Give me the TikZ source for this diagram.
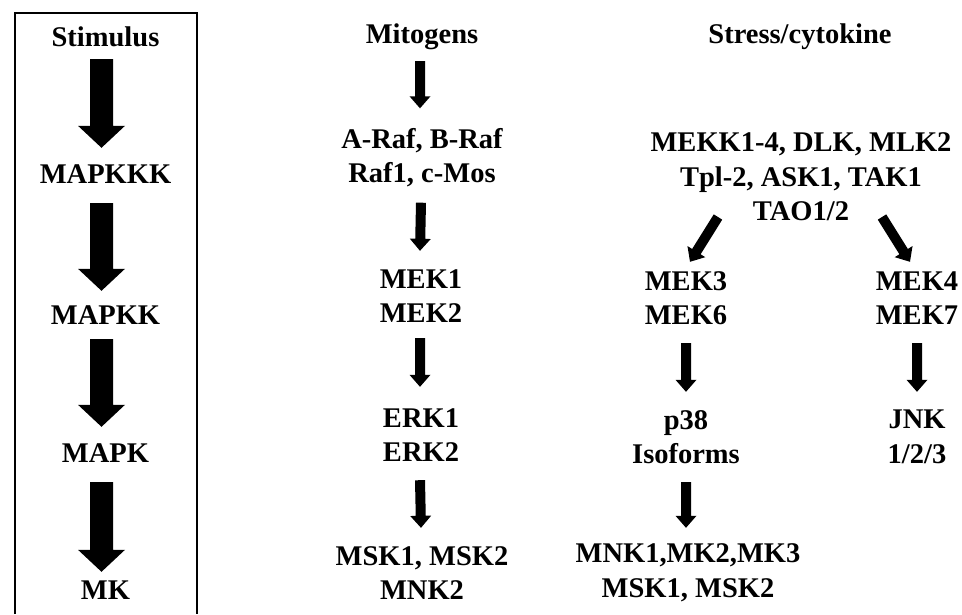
\documentclass[tikz,border=0pt]{standalone}
\usepackage{fontspec}
\setmainfont{Liberation Serif}
\usetikzlibrary{calc}
% fat filled arrow: #1 start, #2 end, #3 half shaft, #4 half head, #5 head length
\newcommand\fatarr[5]{%
  \fill[black] let \p1=(#1), \p2=(#2), \n1={atan2(\y2-\y1,\x2-\x1)}, \n2={veclen(\x2-\x1,\y2-\y1)} in
    [shift={(\p1)}, rotate=\n1]
    (0pt,{#3*1pt}) -- ({(\n2-#5)*1pt},{#3*1pt}) -- ({(\n2-#5)*1pt},{#4*1pt}) -- ({\n2*1pt},0pt)
    -- ({(\n2-#5)*1pt},{-#4*1pt}) -- ({(\n2-#5)*1pt},{-#3*1pt}) -- (0pt,{-#3*1pt}) -- cycle;}
\tikzset{
  lbl/.style={font=\bfseries\fontsize{28.5}{34.5}\selectfont, inner sep=0pt, align=center, text=black},
  one/.style={lbl, minimum height=48pt},
  two/.style={lbl, minimum height=90pt},
  frame/.style={draw=black, line width=2.6pt}
}
\begin{document}
\begin{tikzpicture}[x=1pt,y=-1pt]
\useasboundingbox (0,0) rectangle (962,614);
\fill[white] (0,0) rectangle (962,614);
% frame (bottom edge outside the picture)
\draw[frame] (15,614) -- (15,13) -- (197,13) -- (197,614);
% left column
\node[one] (stim)   at (105.5,37)  {Stimulus};
\node[one] (mapkkk) at (105.5,174) {MAPKKK};
\node[one] (mapkk)  at (105.5,315) {MAPKK};
\node[one] (mapk)   at (105.5,453) {MAPK};
\node[one] (mk)     at (105.5,590) {MK};
% middle column
\node[one] (mito)  at (422,37)    {Mitogens};
\node[two] (raf)   at (422,157.5) {A-Raf, B-Raf\\Raf1, c-Mos};
\node[two] (mek12) at (421,296)   {MEK1\\MEK2};
\node[two] (erk)   at (421,435)   {ERK1\\ERK2};
\node[two] (msk)   at (422,573)   {MSK1, MSK2\\MNK2};
% right part
\node[one] (stress) at (800,37)   {Stress/cytokine};
\node[lbl] (mekk)   at (801,177)  {MEKK1-4, DLK, MLK2\\Tpl-2, ASK1, TAK1\\TAO1/2};
\node[two] (mek36)  at (686,298)  {MEK3\\MEK6};
\node[two] (mek47)  at (917,298)  {MEK4\\MEK7};
\node[two] (p38)    at (686,437)  {p38\\Isoforms};
\node[two] (jnk)    at (917,437)  {JNK\\1/2/3};
\node[two] (mnk)    at (688,573)  {MNK1,MK2,MK3\\MSK1, MSK2};
% big arrows
\fatarr{[xshift=-4pt,yshift=2pt]stim.south}{[xshift=-4pt,yshift=2pt]mapkkk.north}{11.5}{23.5}{22}
\fatarr{[xshift=-4pt,yshift=-5pt]mapkkk.south}{[xshift=-4pt]mapkk.north}{11.5}{23.5}{22}
\fatarr{[xshift=-4pt]mapkk.south}{[xshift=-4pt,yshift=2pt]mapk.north}{11.5}{23.5}{22}
\fatarr{[xshift=-4pt,yshift=-5pt]mapk.south}{[xshift=-4pt,yshift=-6pt]mk.north}{11.5}{23.5}{22}
% small arrows
\fatarr{[xshift=-2pt]mito.south}{[xshift=-2pt,yshift=4pt]raf.north}{5}{10.5}{12}
\fatarr{[xshift=-1pt]raf.south}{[xshift=-1pt]mek12.north}{5}{10.5}{12}
\fatarr{[xshift=-1pt,yshift=3pt]mek12.south}{[xshift=-1pt,yshift=3pt]erk.north}{5}{10.5}{12}
\fatarr{[xshift=-1pt]erk.south}{[xshift=-1pt]msk.north}{5}{10.5}{12}
\fatarr{mek36.south}{p38.north}{5}{10.5}{12}
\fatarr{mek47.south}{jnk.north}{5}{10.5}{12}
\fatarr{p38.south}{[xshift=-2pt]mnk.north}{5}{10.5}{12}
\fatarr{[xshift=-83pt,yshift=-40pt]mekk.center}{[xshift=4pt,yshift=-9pt]mek36.north}{5}{10.5}{12}
\fatarr{[xshift=81pt,yshift=-40pt]mekk.center}{[xshift=-7pt,yshift=-9pt]mek47.north}{5}{10.5}{12}
\end{tikzpicture}
\end{document}
